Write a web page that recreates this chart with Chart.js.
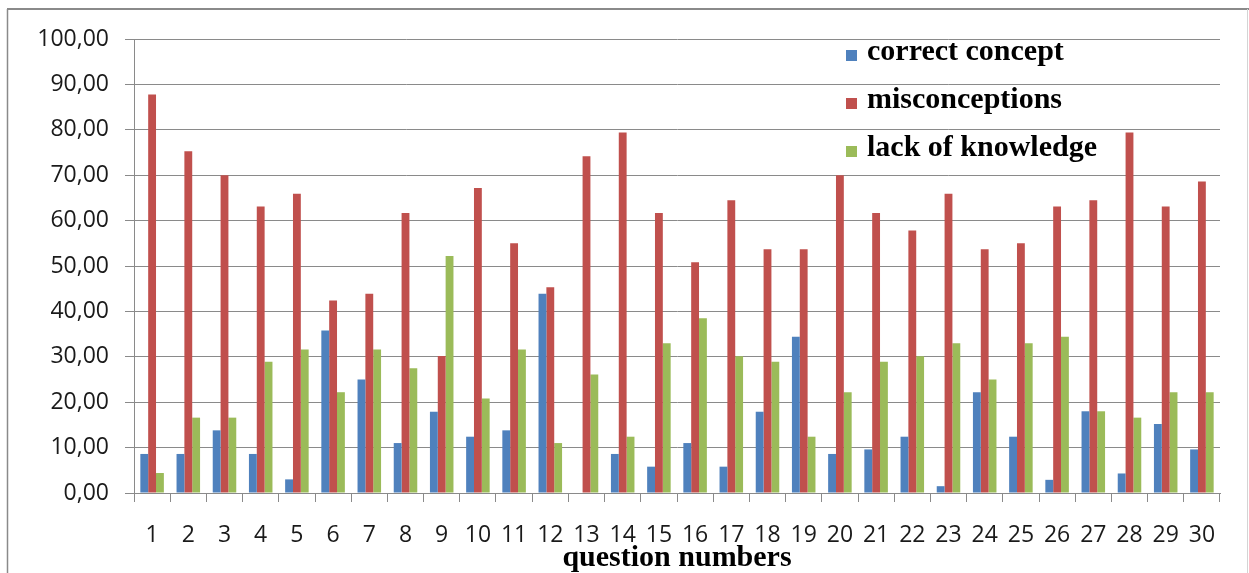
<!DOCTYPE html>
<html>
<head>
<meta charset="utf-8">
<script src="https://cdn.jsdelivr.net/npm/chart.js@4.4.1/dist/chart.umd.min.js"></script>
<style>
  html, body { margin: 0; padding: 0; background: #ffffff; }
  #wrap { width: 1249px; height: 573px; position: relative; }
</style>
</head>
<body>
<div id="wrap"><canvas id="c" width="1249" height="573"></canvas></div>
<script>
const categories = ['1','2','3','4','5','6','7','8','9','10','11','12','13','14','15','16','17','18','19','20','21','22','23','24','25','26','27','28','29','30'];
const correctConcept = [8.6, 8.6, 13.8, 8.6, 3.0, 35.8, 25.0, 11.0, 17.9, 12.4, 13.8, 43.9, 0, 8.6, 5.8, 11.0, 5.8, 17.9, 34.4, 8.6, 9.6, 12.4, 1.5, 22.2, 12.4, 2.9, 18.0, 4.3, 15.2, 9.6];
const misconceptions = [87.8, 75.3, 70.0, 63.1, 65.9, 42.4, 43.9, 61.7, 30.2, 67.2, 55.0, 45.3, 74.2, 79.4, 61.7, 50.8, 64.5, 53.7, 53.7, 70.0, 61.7, 57.8, 65.9, 53.7, 55.0, 63.1, 64.5, 79.4, 63.1, 68.6];
const lackOfKnowledge = [4.4, 16.6, 16.6, 28.9, 31.6, 22.2, 31.6, 27.5, 52.2, 20.8, 31.6, 11.0, 26.1, 12.4, 33.0, 38.5, 30.1, 28.9, 12.4, 22.2, 28.9, 30.1, 33.0, 25.0, 33.0, 34.4, 18.0, 16.6, 22.2, 22.2];
const seriesLabels = ['correct concept', 'misconceptions', 'lack of knowledge'];
const yTicks = [0, 10, 20, 30, 40, 50, 60, 70, 80, 90, 100];

const framePlugin = {
  id: 'frame',
  beforeDraw(chart) {
    const ctx = chart.ctx;
    ctx.save();
    ctx.fillStyle = '#ffffff';
    ctx.fillRect(0, 0, chart.width, chart.height);
    ctx.strokeStyle = '#8a8a8a';
    ctx.lineWidth = 2;
    ctx.beginPath();
    ctx.moveTo(7, 9);
    ctx.lineTo(chart.width, 9);
    ctx.stroke();
    ctx.lineWidth = 1.5;
    ctx.beginPath();
    ctx.moveTo(7.5, 9);
    ctx.lineTo(7.5, chart.height);
    ctx.stroke();
    ctx.strokeStyle = '#d4d4d4';
    ctx.lineWidth = 1;
    ctx.beginPath();
    ctx.moveTo(1247.5, 9);
    ctx.lineTo(1247.5, chart.height);
    ctx.stroke();
    ctx.restore();
  }
};

const insideLegend = {
  id: 'insideLegend',
  afterDraw(chart) {
    const ctx = chart.ctx;
    const area = chart.chartArea;
    ctx.save();
    ctx.font = 'bold 30px "Liberation Serif", "Times New Roman", serif';
    ctx.textBaseline = 'alphabetic';
    ctx.textAlign = 'left';
    chart.data.datasets.forEach((ds, i) => {
      const cy = area.top + 16 + i * 48;
      ctx.fillStyle = ds.backgroundColor;
      ctx.fillRect(846, cy - 5, 11, 11);
      ctx.fillStyle = '#000000';
      ctx.fillText(ds.label, 867, cy + 5);
    });
    ctx.restore();
  }
};

new Chart(document.getElementById('c'), {
  type: 'bar',
  data: {
    labels: categories,
    datasets: [
      { label: seriesLabels[0], data: correctConcept, backgroundColor: '#4F81BD' },
      { label: seriesLabels[1], data: misconceptions, backgroundColor: '#C0504D' },
      { label: seriesLabels[2], data: lackOfKnowledge, backgroundColor: '#9BBB59' }
    ]
  },
  options: {
    responsive: false,
    animation: false,
    devicePixelRatio: 1,
    layout: { padding: { left: 0, top: 39, right: 29, bottom: 0 } },
    datasets: { bar: { categoryPercentage: 0.65, barPercentage: 1.0, borderWidth: 0 } },
    plugins: {
      legend: { display: false },
      tooltip: { enabled: false }
    },
    scales: {
      x: {
        offset: true,
        grid: { display: true, drawOnChartArea: false, drawTicks: true, tickLength: 9, color: '#8a8a8a', offset: true },
        border: { display: true, color: '#8a8a8a', width: 1 },
        ticks: { color: '#1a1a1a', font: { family: '"Open Sans", "Liberation Sans", sans-serif', size: 23 }, padding: 20, maxRotation: 0, autoSkip: false },
        title: { display: true, text: 'question numbers', color: '#000000', font: { family: '"Liberation Serif", "Times New Roman", serif', size: 30, weight: 'bold' }, padding: { top: -8, bottom: -3 } },
        afterFit(scale) { scale.height = 80; }
      },
      y: {
        min: 0,
        max: 100,
        afterBuildTicks(scale) { scale.ticks = yTicks.map(v => ({ value: v })); },
        grid: { color: '#8a8a8a', lineWidth: 1, drawTicks: true, tickLength: 9 },
        border: { display: true, color: '#8a8a8a', width: 1 },
        ticks: {
          color: '#1a1a1a',
          font: { family: '"Open Sans", "Liberation Sans", sans-serif', size: 23 },
          padding: 16,
          callback: (v) => Number(v).toFixed(2).replace('.', ',')
        },
        afterFit(scale) { scale.width = 134; }
      }
    }
  },
  plugins: [framePlugin, insideLegend]
});
</script>
</body>
</html>
